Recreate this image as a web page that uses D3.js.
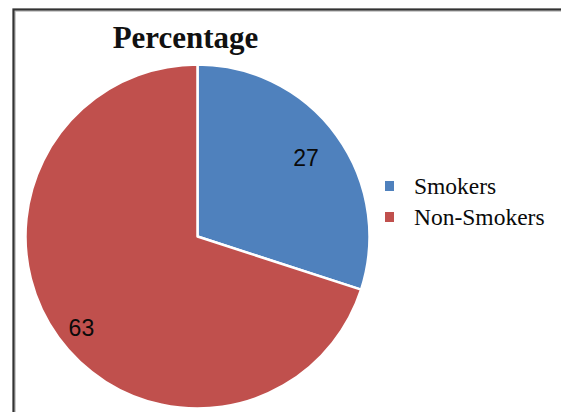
<!DOCTYPE html>
<html>
<head>
<meta charset="utf-8">
<script src="https://cdn.jsdelivr.net/npm/d3@7"></script>
<style>
  html, body { margin: 0; padding: 0; background: #fff; }
  svg { display: block; }
</style>
</head>
<body>
<svg id="chart" width="561" height="412"></svg>
<script>
const title = "Percentage";
const categories = ["Smokers", "Non-Smokers"];
const values = [27, 63];
const colors = ["#4F81BD", "#C0504D"];

const svg = d3.select("#chart");
const W = 561, H = 412;

// frame
svg.append("rect").attr("x", 0).attr("y", 0).attr("width", W).attr("height", H).attr("fill", "#fff");
svg.append("path")
  .attr("d", `M14,${H + 5} L14,10 L${W + 5},10`)
  .attr("fill", "none").attr("stroke", "#bdbdbd").attr("stroke-width", 3.5);
svg.append("path")
  .attr("d", `M13.5,${H + 5} L13.5,9.5 L${W + 5},9.5`)
  .attr("fill", "none").attr("stroke", "#333").attr("stroke-width", 2);

// title
svg.append("text")
  .attr("x", 185.5).attr("y", 48)
  .attr("text-anchor", "middle")
  .attr("font-family", "'Liberation Serif', 'Times New Roman', serif")
  .attr("font-weight", "bold")
  .attr("font-size", 31)
  .attr("fill", "#111")
  .text(title);

const cx = 197.5, cy = 236.5, r = 172;
const data = categories.map((c, i) => ({ cat: c, value: values[i], color: colors[i] }));
const pie = d3.pie().value(d => d.value).sort(null);
const arcs = pie(data);
const arc = d3.arc().innerRadius(0).outerRadius(r);

const g = svg.append("g").attr("transform", `translate(${cx},${cy})`);
g.selectAll("path.slice")
  .data(arcs)
  .enter().append("path")
  .attr("class", "slice")
  .attr("d", arc)
  .attr("fill", d => d.data.color)
  .attr("stroke", "#fff")
  .attr("stroke-width", 2.5)
  .attr("stroke-linejoin", "round");

const labelFactors = [0.78, 0.86];
const labelAngleShift = [0, -0.04];
g.selectAll("text.lbl")
  .data(arcs)
  .enter().append("text")
  .attr("class", "lbl")
  .attr("transform", (d, i) => {
    const a = (d.startAngle + d.endAngle) / 2 + labelAngleShift[i];
    const rr = r * labelFactors[i];
    return `translate(${Math.sin(a) * rr},${-Math.cos(a) * rr})`;
  })
  .attr("text-anchor", "middle")
  .attr("dy", "0.36em")
  .attr("font-family", "'Liberation Sans', Arial, sans-serif")
  .attr("font-size", 23)
  .attr("fill", "#0a0a0a")
  .text(d => d.value);

// legend
const legend = svg.append("g");
const ly = d3.scalePoint().domain(categories).range([186, 217]);
categories.forEach((c, i) => {
  legend.append("rect")
    .attr("x", 385).attr("y", ly(c) - 5)
    .attr("width", 9).attr("height", 10)
    .attr("fill", colors[i]);
  legend.append("text")
    .attr("x", 414).attr("y", ly(c) + 7.5)
    .attr("font-family", "'Liberation Serif', 'Times New Roman', serif")
    .attr("font-size", 23.5)
    .attr("fill", "#0a0a0a")
    .text(c);
});
</script>
</body>
</html>
